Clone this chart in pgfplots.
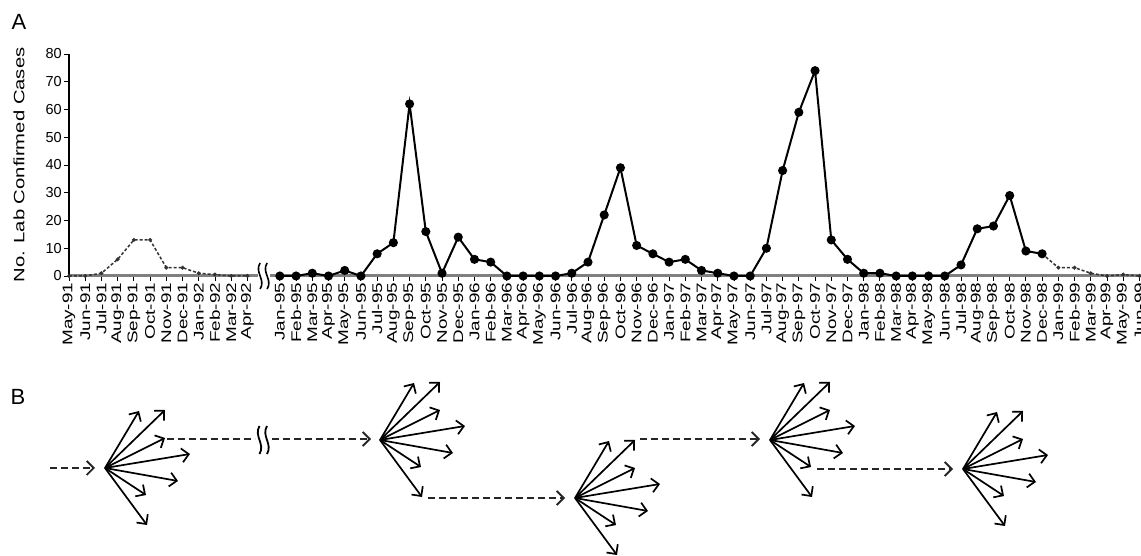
\documentclass[border=0pt]{standalone}
\usepackage{fontspec}
\setmainfont{Liberation Sans}
\newfontfamily\rotfont[FakeStretch=1.35]{Liberation Sans}
\usepackage{pgfplots}
\pgfplotsset{compat=1.18}
\usepackage{pgfplotstable}
\usetikzlibrary{arrows.meta}

% 1991-92 (dashed)
\pgfplotstableread{
x y
0 0
1 0
2 1
3 6
4 13
5 13
6 3
7 3
8 1
9 0.5
10 0
11 0
}\earlyA

% Jan-95 .. Dec-98 (solid, x=13 is Jan-95)
\pgfplotstableread{
x y
13 0
14 0
15 1
16 0
17 2
18 0
19 8
20 12
21 62
22 16
23 1
24 14
25 6
26 5
27 0
28 0
29 0
30 0
31 1
32 5
33 22
34 39
35 11
36 8
37 5
38 6
39 2
40 1
41 0
42 0
43 10
44 38
45 59
46 74
47 13
48 6
49 1
50 1
51 0
52 0
53 0
54 0
55 4
56 17
57 18
58 29
59 9
60 8
}\mainA

% Dec-98 .. Jun-99 (dashed)
\pgfplotstableread{
x y
60 8
61 3
62 3
63 1
64 0
65 0.5
66 0
}\lateA

% panel B: fans of arrows (origin x, y; vector u, v), pixel units, y downwards
\pgfplotstableread{
x y u v
105 468 34 -57
105 468 60 -58
105 468 60 -30
105 468 85 -14
105 468 73 13
105 468 41 27
105 468 42 57
380 440 34 -57
380 440 60 -58
380 440 60 -30
380 440 85 -14
380 440 73 13
380 440 41 27
380 440 42 57
575 498 34 -57
575 498 60 -58
575 498 60 -30
575 498 85 -14
575 498 73 13
575 498 41 27
575 498 42 57
770 440 34 -57
770 440 60 -58
770 440 60 -30
770 440 85 -14
770 440 73 13
770 440 41 27
770 440 42 57
963 469 34 -57
963 469 60 -58
963 469 60 -30
963 469 85 -14
963 469 73 13
963 469 41 27
963 469 42 57
}\fans

\tikzset{
  dl/.style={line width=2.4pt, dash pattern=on 7pt off 4pt, black!85},
  barb/.style={-{Straight Barb[length=7pt,width=14pt,line width=1.8pt]}},
}

\begin{document}
\begin{tikzpicture}
\useasboundingbox (0,0) rectangle (1141pt,556pt);

\node[font=\fontsize{22}{22}\selectfont] at (19pt,534pt) {A};
\node[font=\fontsize{22}{22}\selectfont] at (18pt,159pt) {B};

% ---------------- Panel A ----------------
\begin{axis}[
  at={(69pt,280pt)}, anchor=south west,
  scale only axis, width=1072pt, height=222pt,
  xmin=0, xmax=66.1, ymin=0, ymax=80,
  clip=false,
  axis x line*=bottom, axis y line*=left,
  x axis line style={line width=3pt, black!50, -},
  y axis line style={line width=1.4pt, black, -},
  tick align=outside, major tick length=5pt,
  tick style={black, line width=0.9pt},
  ytick={0,10,...,80},
  /pgf/number format/assume math mode=true,
  yticklabel style={font=\fontsize{14.5}{14.5}\selectfont, inner sep=2pt},
  xtick={0,...,11,13,14,...,66},
  xticklabels={May-91,Jun-91,Jul-91,Aug-91,Sep-91,Oct-91,Nov-91,Dec-91,Jan-92,Feb-92,Mar-92,Apr-92,
    Jan-95,Feb-95,Mar-95,Apr-95,May-95,Jun-95,Jul-95,Aug-95,Sep-95,Oct-95,Nov-95,Dec-95,
    Jan-96,Feb-96,Mar-96,Apr-96,May-96,Jun-96,Jul-96,Aug-96,Sep-96,Oct-96,Nov-96,Dec-96,
    Jan-97,Feb-97,Mar-97,Apr-97,May-97,Jun-97,Jul-97,Aug-97,Sep-97,Oct-97,Nov-97,Dec-97,
    Jan-98,Feb-98,Mar-98,Apr-98,May-98,Jun-98,Jul-98,Aug-98,Sep-98,Oct-98,Nov-98,Dec-98,
    Jan-99,Feb-99,Mar-99,Apr-99,May-99,Jun-99},
  xticklabel style={rotate=90, anchor=east, font=\rotfont\fontsize{14}{14}\selectfont, inner sep=1.5pt},
  ylabel={No. Lab Confirmed Cases},
  ylabel style={at={(axis description cs:-0.0466,0.5)}, anchor=center, font=\rotfont\fontsize{15}{15}\selectfont},
]
\addplot[black!80, line width=1.5pt, densely dashed, mark=*, mark size=1.1pt, mark options={solid}] table[x=x,y=y] {\earlyA};
\addplot[black!80, line width=1.5pt, densely dashed, mark=*, mark size=1.1pt, mark options={solid}] table[x=x,y=y] {\lateA};
\addplot[black, line width=2pt, mark=*, mark size=3.5pt, mark options={solid, fill=black}] table[x=x,y=y] {\mainA};
\coordinate (brkA) at (axis cs:12,0);
\end{axis}
% axis break
\fill[white] ([shift={(-6pt,-3pt)}]brkA) rectangle ([shift={(6pt,3pt)}]brkA);
\foreach \dx in {-3.5,3.5}{
  \draw[line width=1.6pt] ([shift={(\dx pt,13pt)}]brkA) .. controls ([shift={(\dx pt-6pt,4pt)}]brkA) and ([shift={(\dx pt+6pt,-4pt)}]brkA) .. ([shift={(\dx pt,-13pt)}]brkA);
}

% ---------------- Panel B ----------------
\begin{axis}[
  at={(0pt,0pt)}, anchor=south west,
  scale only axis, width=1141pt, height=256pt,
  xmin=0, xmax=1141, ymin=300, ymax=556, y dir=reverse,
  hide axis, clip=false, no markers,
]
\addplot[black, line width=1.7pt, -{Straight Barb[length=7pt,width=14pt]},
  quiver={u=\thisrow{u}, v=\thisrow{v}}] table[x=x,y=y] {\fans};
\addplot[dl, barb] coordinates {(50,468) (95,468)};
\addplot[dl] coordinates {(167,439) (255,439)};
\addplot[dl, barb] coordinates {(272,439) (371,439)};
\addplot[dl, barb] coordinates {(428,498) (565,498)};
\addplot[dl, barb] coordinates {(640,439) (760,439)};
\addplot[dl, barb] coordinates {(817,469) (953,469)};
\draw[line width=1.8pt] (axis cs:259.5,426) .. controls (axis cs:253.5,436) and (axis cs:265.5,444) .. (axis cs:259.5,454);
\draw[line width=1.8pt] (axis cs:267,426) .. controls (axis cs:261,436) and (axis cs:273,444) .. (axis cs:267,454);
\end{axis}
\end{tikzpicture}
\end{document}
